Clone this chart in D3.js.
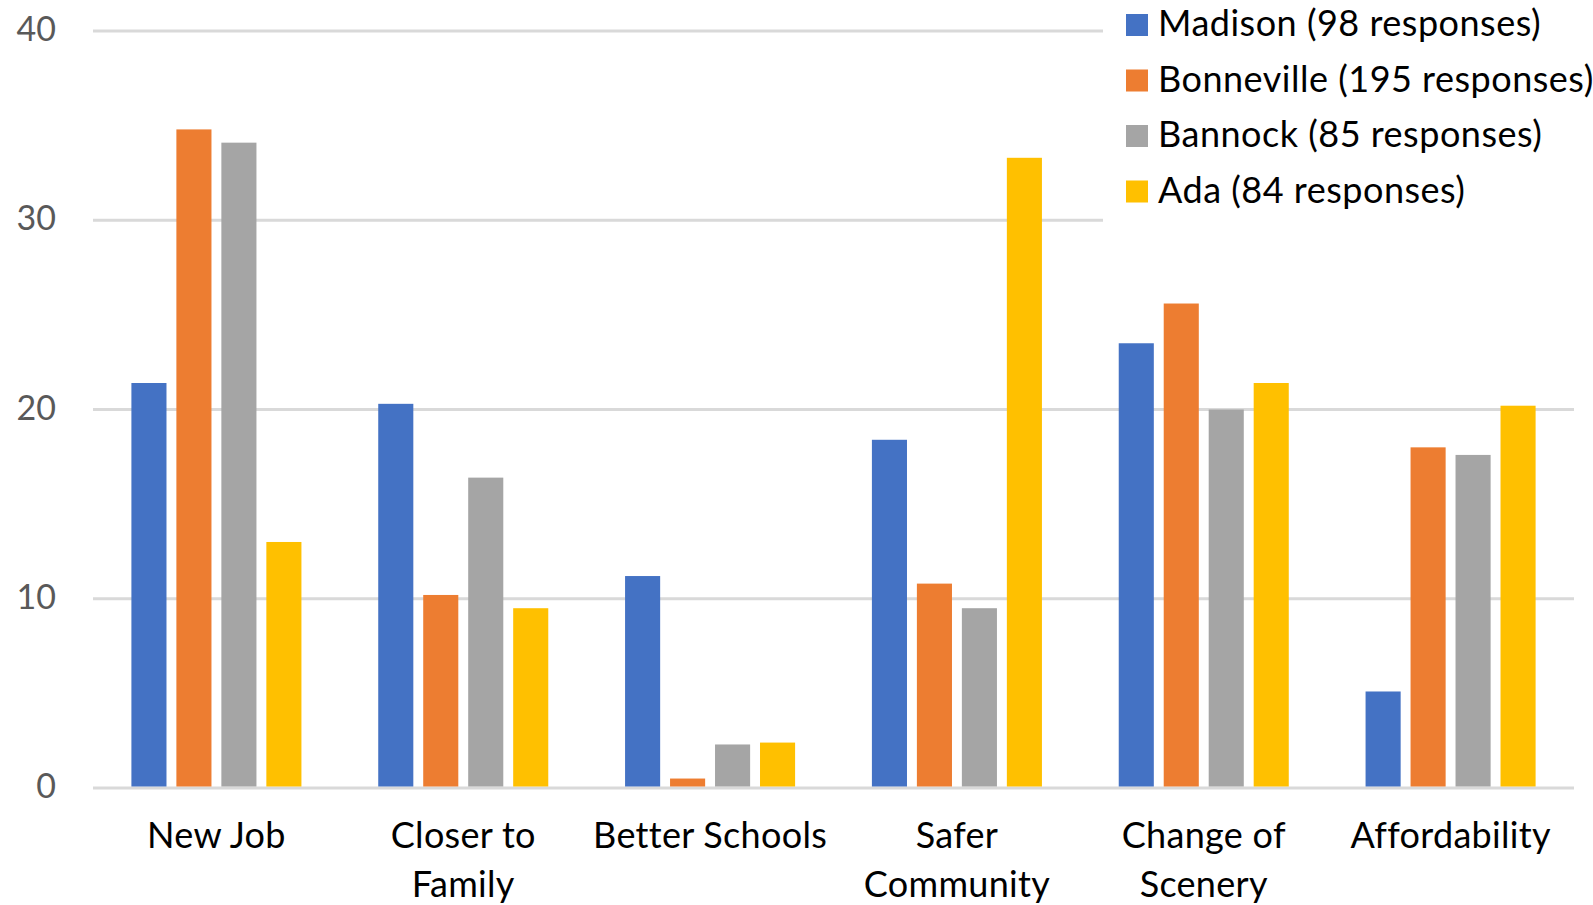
<!DOCTYPE html>
<html><head><meta charset="utf-8">
<script src="https://cdn.jsdelivr.net/npm/d3@7"></script>
<style>html,body{margin:0;padding:0;background:#fff;}svg{display:block;}</style>
</head><body>
<script>
const categories = ["New Job", "Closer to Family", "Better Schools", "Safer Community", "Change of Scenery", "Affordability"];
const categoryLines = [["New Job"], ["Closer to", "Family"], ["Better Schools"], ["Safer", "Community"], ["Change of", "Scenery"], ["Affordability"]];
const seriesNames = ["Madison (98 responses)", "Bonneville (195 responses)", "Bannock (85 responses)", "Ada (84 responses)"];
const madison = [21.4, 20.3, 11.2, 18.4, 23.5, 5.1];
const bonneville = [34.8, 10.2, 0.5, 10.8, 25.6, 18.0];
const bannock = [34.1, 16.4, 2.3, 9.5, 20.0, 17.6];
const ada = [13.0, 9.5, 2.4, 33.3, 21.4, 20.2];
const yTicks = [0, 10, 20, 30, 40];
const colors = ["#4472C4", "#ED7D31", "#A5A5A5", "#FFC000"];

const series = [madison, bonneville, bannock, ada];
const W = 1593, H = 905;
const FONT = "Lato, 'Open Sans', sans-serif";
const svg = d3.select("body").append("svg").attr("width", W).attr("height", H);

const plotLeft = 93, plotRight = 1574;
const y = d3.scaleLinear().domain([0, 40]).range([788, 31]);
const x0 = d3.scaleBand().domain(categories).range([plotLeft, plotRight]).padding(0);
const inset = 38.4;
const x1 = d3.scaleBand().domain(d3.range(series.length)).range([inset, x0.bandwidth() - inset]).paddingInner(0.22).paddingOuter(0);

// gridlines
svg.append("g").selectAll("line").data(yTicks).join("line")
  .attr("x1", plotLeft).attr("x2", plotRight)
  .attr("y1", d => y(d)).attr("y2", d => y(d))
  .attr("stroke", "#d9d9d9").attr("stroke-width", 3);

// y tick labels
svg.append("g").selectAll("text").data(yTicks).join("text")
  .attr("x", 56).attr("y", d => y(d) + 10)
  .attr("text-anchor", "end")
  .attr("font-family", FONT).attr("font-size", 34).attr("fill", "#595959")
  .text(d => d);

// bars
const groups = svg.append("g").selectAll("g").data(categories).join("g")
  .attr("transform", c => `translate(${x0(c)},0)`);
groups.selectAll("rect").data((c, ci) => series.map((s, si) => ({si, v: s[ci]}))).join("rect")
  .attr("x", d => x1(d.si)).attr("width", x1.bandwidth())
  .attr("y", d => y(d.v)).attr("height", d => y(0) - 1.5 - y(d.v))
  .attr("fill", d => colors[d.si]);

// category labels
const cat = svg.append("g").selectAll("text").data(categories).join("text")
  .attr("text-anchor", "middle")
  .attr("font-family", FONT).attr("font-size", 36).attr("letter-spacing", 0.3).attr("fill", "#000")
  .attr("transform", c => `translate(${x0(c) + x0.bandwidth() / 2},848)`);
cat.selectAll("tspan").data((c, i) => categoryLines[i]).join("tspan")
  .attr("x", 0).attr("y", (d, i) => i * 49).text(d => d);

// legend
const leg = svg.append("g");
leg.append("rect").attr("x", 1103).attr("y", 0).attr("width", W - 1103).attr("height", 228).attr("fill", "#fff");
const li = leg.selectAll("g").data(seriesNames).join("g")
  .attr("transform", (d, i) => `translate(0,${36 + i * 55.5})`);
li.append("rect").attr("x", 1126).attr("y", -22).attr("width", 22).attr("height", 22)
  .attr("fill", (d, i) => colors[i]);
li.append("text").attr("x", 1158).attr("y", 0)
  .attr("font-family", FONT).attr("font-size", 36).attr("letter-spacing", 0.5).attr("fill", "#000")
  .text(d => d);
</script>
</body></html>
